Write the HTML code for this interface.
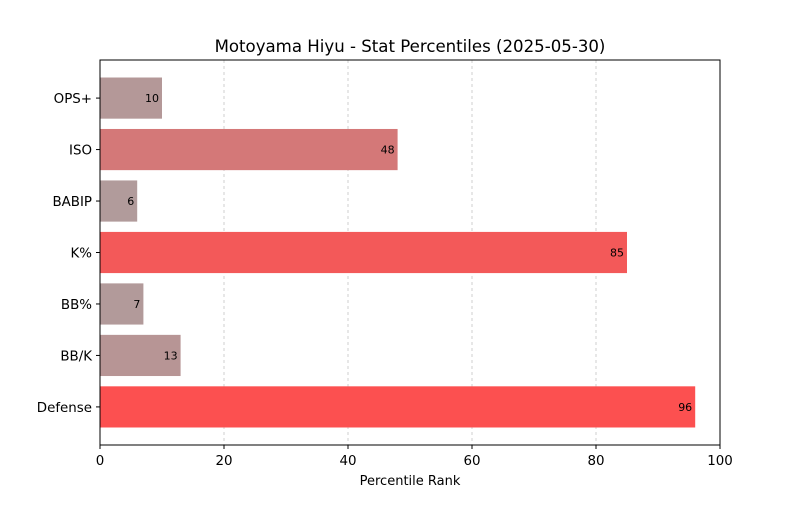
<!DOCTYPE html>
<html><head><meta charset="utf-8"><style>
body{margin:0;background:#fff;font-family:"Liberation Sans","DejaVu Sans",sans-serif}
svg text{font-family:"DejaVu Sans","Liberation Sans",sans-serif}
</style></head><body>
<svg id="c" width="800" height="500">
<rect width="800" height="500" fill="#fff"/>
<text x="410" y="52" text-anchor="middle" font-size="16.6">Motoyama Hiyu - Stat Percentiles (2025-05-30)</text>
<text x="410" y="485" text-anchor="middle" font-size="13">Percentile Rank</text>
</svg>
<script>
const categories = ["OPS+","ISO","BABIP","K%","BB%","BB/K","Defense"];
const values = [10,48,6,85,7,13,96];
const xTicks = [0,20,40,60,80,100];

const svg = document.getElementById('c');
const NS = 'http://www.w3.org/2000/svg';
const L=100,R=720,T=60,B=445;
const x = v => L + (v/100)*(R-L);
const unit = (B-T)/(categories.length-1+0.8+0.68);
const y = i => T + (0.74 + i)*unit;
function mk(tag, attrs){const e=document.createElementNS(NS,tag);for(const k in attrs)e.setAttribute(k,attrs[k]);svg.appendChild(e);return e;}
function col(v){const t=v/100;const r=Math.round(172+(255-172)*t),g=Math.round(160-(160-77)*t);return `rgb(${r},${g},${g})`;}

xTicks.forEach(t=>{
  if(t>0&&t<100){const g=mk('line',{x1:x(t),x2:x(t),y1:T,y2:B,stroke:'#c4c4c4','stroke-dasharray':'3,3','stroke-width':0.8});
  
  }
});
categories.forEach((c,i)=>{
  const v=values[i];
  const r=mk('rect',{x:x(0),y:y(i)-0.4*unit,width:x(v)-x(0),height:0.8*unit,fill:col(v)});
  
  
  const lb=mk('text',{x:x(v)-3,y:y(i)+4,'text-anchor':'end','font-size':11});
  lb.textContent=v;
  
  
  const tk=mk('line',{x1:L-4,x2:L,y1:y(i),y2:y(i),stroke:'#000'});
  
  
  const yl=mk('text',{x:L-8,y:y(i)+5,'text-anchor':'end','font-size':13.4});
  yl.textContent=c;
  
  
});
xTicks.forEach(t=>{
  const tk=mk('line',{x1:x(t),x2:x(t),y1:B,y2:B+4,stroke:'#000'});
  
  
  const tl=mk('text',{x:x(t),y:B+20,'text-anchor':'middle','font-size':13.4});
  tl.textContent=t;
  
  
});
const f=mk('rect',{x:L,y:T,width:R-L,height:B-T,fill:'none',stroke:'#000','stroke-width':1});


</script>
</body></html>
